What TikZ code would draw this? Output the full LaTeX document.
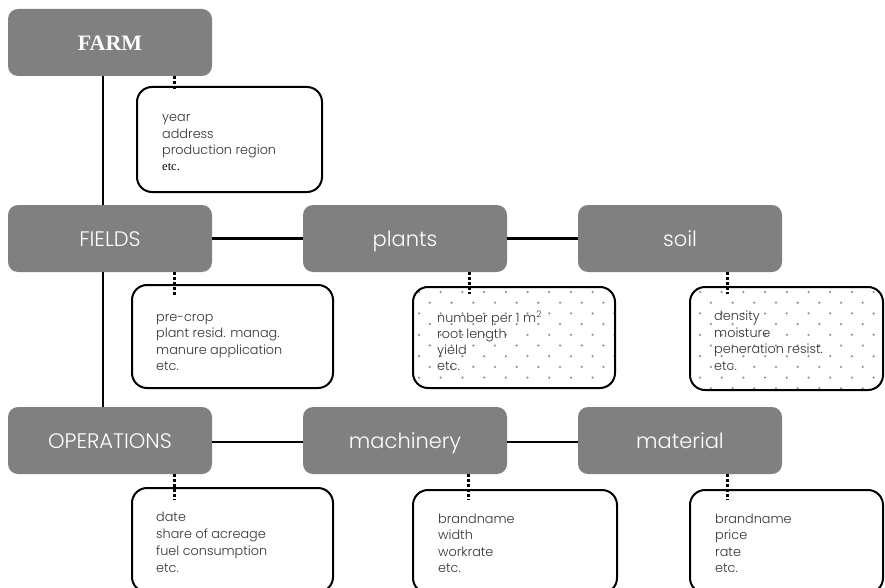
\documentclass[tikz,border=0pt]{standalone}
\usepackage{fontspec}
\setmainfont{Poppins}
\IfFontExistsTF{Poppins Light}{\newfontfamily\lightfont{Poppins Light}}{\newfontfamily\lightfont{Poppins}}
\newfontfamily\seriffont{Liberation Serif}
\definecolor{boxgray}{HTML}{808080}
\definecolor{dtextcol}{HTML}{333333}
\definecolor{dotcol}{HTML}{939393}
\tikzset{
  graybox/.style={rectangle, fill=boxgray, rounded corners=10pt, minimum width=204pt, minimum height=67pt, inner sep=0pt, text=white, text height=16pt, text depth=0pt, font=\lightfont\fontsize{21}{24}\selectfont},
  detailbox/.style={rectangle, draw=black, line width=2pt, rounded corners=15pt, inner sep=0pt},
  dtext/.style={anchor=base west, inner sep=0pt, text=dtextcol, font=\lightfont\fontsize{12.8}{14}\selectfont},
  solidlink/.style={line width=2.6pt, draw=black},
  dotlink/.style={line width=3pt, draw=black, dash pattern=on 3pt off 2pt},
}
\begin{document}
\begin{tikzpicture}[x=1pt,y=-1pt]
\useasboundingbox (0,0) rectangle (885,588);

% detail boxes (drawn first so the dotted links lie on top)
\node[detailbox, minimum width=185pt, minimum height=105pt] (farmd) at (229.5,139.5) {};
\node[detailbox, minimum width=201pt, minimum height=103pt] (fieldsd) at (232.5,336.5) {};
% dotted pattern boxes
\begin{scope}
  \clip[rounded corners=15pt] (413,287) rectangle (615,388);
  \foreach \j in {-1,...,10} \foreach \i in {-2,...,10}
    \fill[dotcol] ({440.7+21.7*\i-10.85*mod(\j+2,2)},{292+10.7*\j}) circle (1.25pt);
\end{scope}
\begin{scope}
  \clip[rounded corners=15pt] (690,287) rectangle (883,390);
  \foreach \j in {-1,...,10} \foreach \i in {-2,...,10}
    \fill[dotcol] ({721.7+21.7*\i-10.85*mod(\j+2,2)},{292+10.7*\j}) circle (1.25pt);
\end{scope}
\node[detailbox, minimum width=202pt, minimum height=101pt] (plantsd) at (514,337.5) {};
\node[detailbox, minimum width=193pt, minimum height=103pt] (soild) at (786.5,338.5) {};
\node[detailbox, minimum width=201pt, minimum height=104pt] (opsd) at (232.5,540) {};
\node[detailbox, minimum width=204pt, minimum height=103pt] (machd) at (515,541.5) {};
\node[detailbox, minimum width=193pt, minimum height=103pt] (matd) at (786.5,541.5) {};

% gray boxes
\node[graybox, font=\seriffont\bfseries\fontsize{22}{24}\selectfont] (farm) at (110,42.5) {FARM};
\node[graybox] (fields) at (110,238.5) {FIELDS};
\node[graybox] (plants) at (405,238.5) {plants};
\node[graybox] (soil) at (680,238.5) {soil};
\node[graybox] (ops) at (110,440.5) {OPERATIONS};
\node[graybox] (mach) at (405,440.5) {machinery};
\node[graybox] (mat) at (680,440.5) {material};

% solid links
\draw[solidlink] ([xshift=-7pt]farm.south) -- ([xshift=-7pt]fields.north);
\draw[solidlink] ([xshift=-7pt]fields.south) -- ([xshift=-7pt]ops.north);
\draw[solidlink] (fields.east) -- (plants.west);
\draw[solidlink] (plants.east) -- (soil.west);
\draw[solidlink] ([yshift=-1.5pt]ops.east) -- ([yshift=-1.5pt]mach.west);
\draw[solidlink] ([yshift=-1.5pt]mach.east) -- ([yshift=-1.5pt]mat.west);

% dotted links
\coordinate (farmde) at (174,91);
\coordinate (fieldsde) at (174,297);
\coordinate (plantsde) at (469,294);
\coordinate (soilde) at (727,294);
\coordinate (opsde) at (174,500);
\coordinate (machde) at (468,500);
\coordinate (matde) at (727,500);
\draw[dotlink] (farm.south -| farmde) -- (farmde);
\draw[dotlink] (fields.south -| fieldsde) -- (fieldsde);
\draw[dotlink] (plants.south -| plantsde) -- (plantsde);
\draw[dotlink] (soil.south -| soilde) -- (soilde);
\draw[dotlink] (ops.south -| opsde) -- (opsde);
\draw[dotlink] (mach.south -| machde) -- (machde);
\draw[dotlink] (mat.south -| matde) -- (matde);

% detail texts
\foreach \t [count=\k] in {year,address,production region}
  \node[dtext] (farmt\k) at (162,{122+16.3*(\k-1)}) {\t};
\node[dtext, text=black, font=\seriffont\fontsize{12.5}{14}\selectfont] (farmt4) at (162,{122+16.3*3}) {etc.};
\foreach \t [count=\k] in {pre-crop,plant resid. manag.,manure application,etc.}
  \node[dtext] (fieldst\k) at (156,{321+16.5*(\k-1)}) {\t};
\foreach \t [count=\k] in {number per 1 m\textsuperscript{2},root length,yield,etc.}
  \node[dtext] (plantst\k) at (437,{322+16*(\k-1)}) {\t};
\foreach \t [count=\k] in {density,moisture,peneration resist.,etc.}
  \node[dtext] (soilt\k) at (714,{320.5+16.5*(\k-1)}) {\t};
\foreach \t [count=\k] in {date,share of acreage,fuel consumption,etc.}
  \node[dtext] (opst\k) at (156,{521+17*(\k-1)}) {\t};
\foreach \t [count=\k] in {brandname,width,workrate,etc.}
  \node[dtext] (macht\k) at (438,{523+16.5*(\k-1)}) {\t};
\foreach \t [count=\k] in {brandname,price,rate,etc.}
  \node[dtext] (matt\k) at (715,{523+16.5*(\k-1)}) {\t};
\end{tikzpicture}
\end{document}
